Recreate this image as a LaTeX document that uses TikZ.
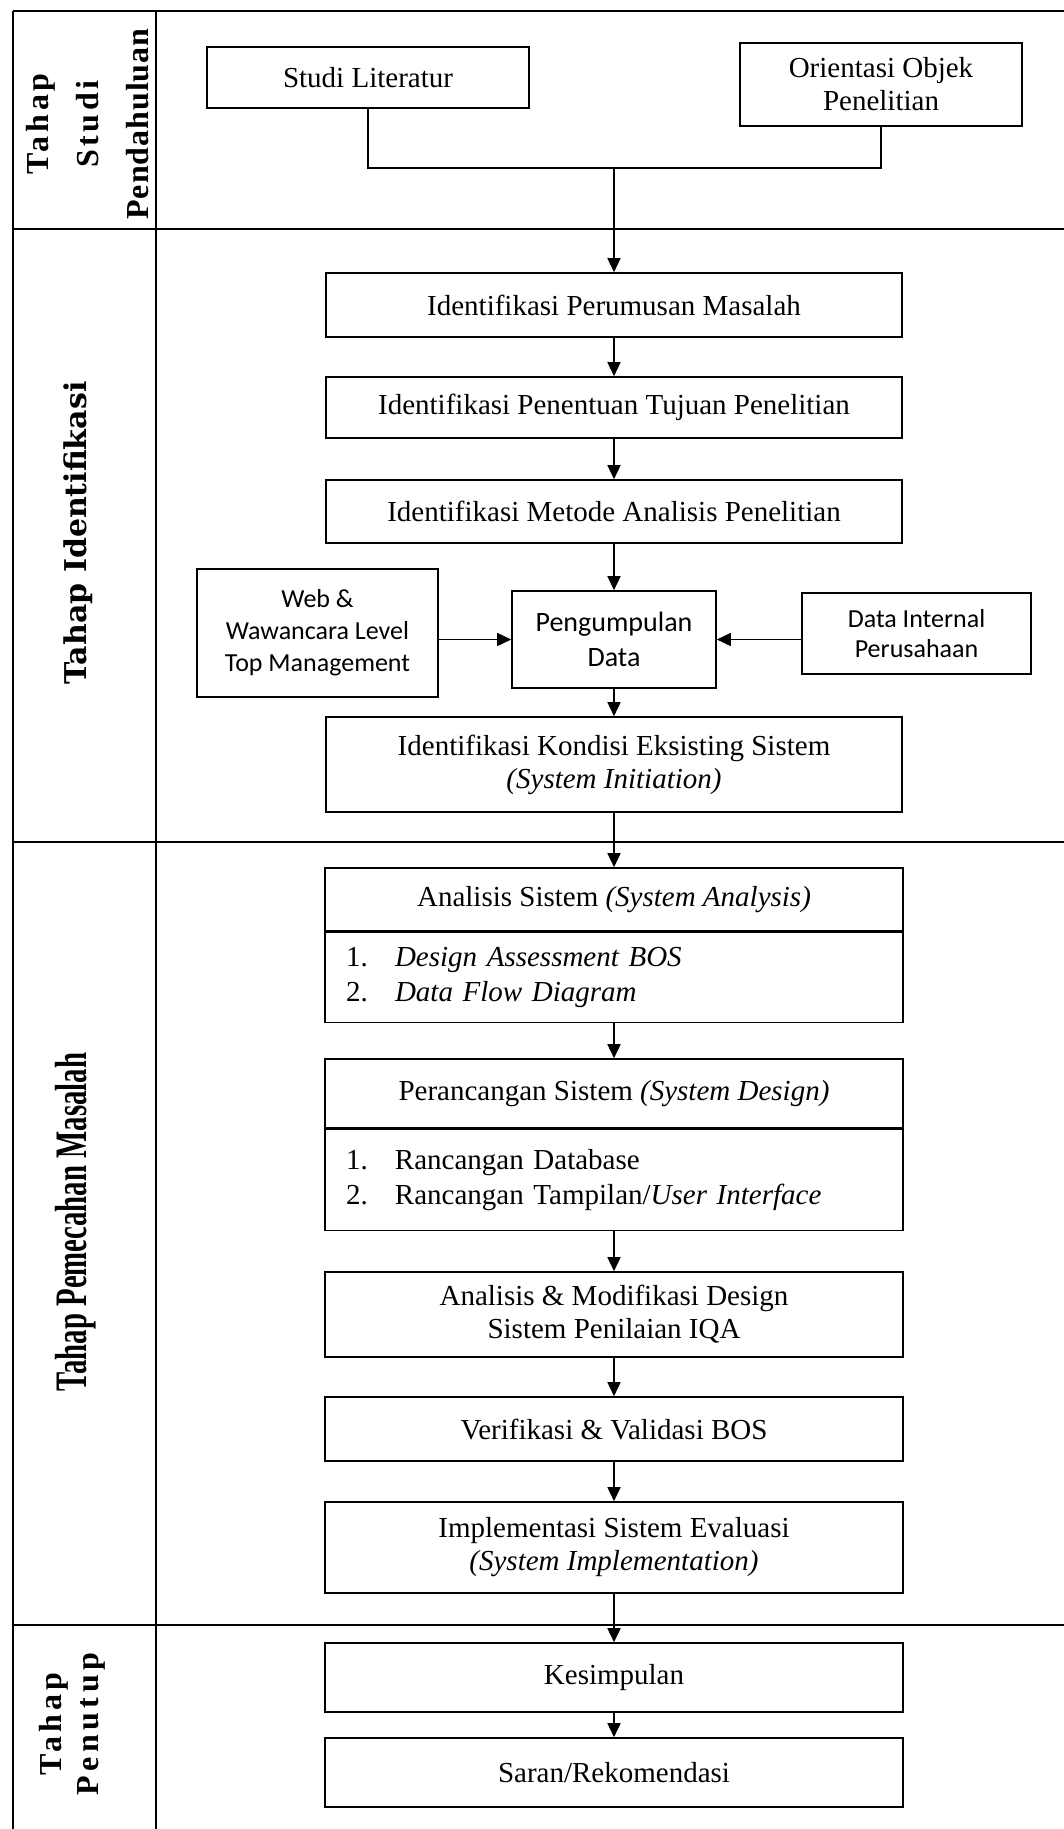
\documentclass[tikz,border=0pt]{standalone}
\usepackage{fontspec}
\setmainfont{Liberation Serif}
\newfontfamily\sansbox{Carlito}
\newfontfamily\lanefont{DejaVu Serif}
\newfontfamily\lanetimes{Liberation Serif}
\newfontfamily\lanecond{Liberation Serif}[FakeStretch=0.64]
\usetikzlibrary{arrows.meta}

\begin{document}
\begin{tikzpicture}[x=0.5pt,y=-0.5pt,
  line width=0.8pt,
  box/.style={draw, line width=0.8pt, align=center, inner sep=0pt,
    font=\fontsize{14.5}{16.5}\selectfont},
  listbox/.style={draw, line width=0.8pt, align=left, inner ysep=0pt,
    inner xsep=10.5pt, text width=268pt, font=\fontsize{14.5}{17.5}\selectfont},
  sbox/.style={draw, line width=0.8pt, align=center, inner sep=0pt,
    font=\sansbox\fontsize{13}{16}\selectfont},
  wh/.style 2 args={minimum width=#1*0.5pt, minimum height=#2*0.5pt},
  flow/.style={-{Triangle[length=7pt,width=6.5pt]}},
  lane/.style={line width=0.8pt},
  lanelabel/.style={rotate=90, align=center, inner sep=0pt},
]
\useasboundingbox (0,0) rectangle (1064,1829);

% swimlane frame
\draw[lane] (13,11) -- (1064,11);
\draw[lane] (13,229) -- (1064,229);
\draw[lane] (13,842) -- (1064,842);
\draw[lane] (13,1625) -- (1064,1625);
\draw[lane] (13,11) -- (13,1829);
\draw[lane] (156,11) -- (156,1829);

% lane titles
\node[lanelabel, font=\lanetimes\bfseries\fontsize{16}{25}\selectfont] (lane1) at (88,124)
  {{\addfontfeature{LetterSpace=12}Tahap}\\
   {\addfontfeature{LetterSpace=11}Studi}\\
   {\addfontfeature{LetterSpace=3}Pendahuluan}};
\node[lanelabel, font=\lanefont\bfseries\fontsize{15}{18}\selectfont] (lane2) at (78,533) {Tahap Identifikasi};
\node[lanelabel, font=\lanecond\bfseries\fontsize{22.5}{26}\selectfont] (lane3) at (76,1222) {Tahap Pemecahan Masalah};
\node[lanelabel, font=\lanetimes\bfseries\fontsize{16}{18.5}\selectfont] (lane4) at (72,1724)
  {{\addfontfeature{LetterSpace=13}Tahap}\\
   {\addfontfeature{LetterSpace=14}Penutup}};

% preliminary study
\node[box, wh={322}{61}] (studi) at (368,77.5) {Studi Literatur};
\node[box, wh={282}{83}] (orient) at (881,84.5) {Orientasi Objek\\Penelitian};
\coordinate (join) at (614,168);

% identification
\node[box, wh={576}{64}] (perum) at (614,305) {Identifikasi Perumusan Masalah};
\node[box, wh={576}{61}] (tujuan) at (614,407.5) {Identifikasi Penentuan Tujuan Penelitian};
\node[box, wh={576}{63}] (metode) at (614,511.5) {Identifikasi Metode Analisis Penelitian};
\node[sbox, wh={241}{128}] (web) at (317.5,633) {Web \&\\Wawancara Level\\Top Management};
\node[sbox, wh={204}{97}, font=\sansbox\fontsize{14}{17.5}\selectfont] (data) at (614,639.5) {Pengumpulan\\Data};
\node[sbox, wh={229}{81}, font=\sansbox\fontsize{13}{15}\selectfont] (internal) at (916.5,633.5) {Data Internal\\Perusahaan};
\node[box, wh={576}{95}] (kondisi) at (614,764.5) {Identifikasi Kondisi Eksisting Sistem\\\textit{(System Initiation)}};

% problem solving
\node[box, wh={578}{63}] (anah) at (614,899.5) {Analisis Sistem \textit{(System Analysis)}};
\node[listbox, wh={578}{90}, anchor=north] (anal) at (anah.south)
  {\makebox[24.5pt][l]{1.}\textit{Design Assessment BOS}\\
   \makebox[24.5pt][l]{2.}\textit{Data Flow Diagram}};
\node[box, wh={578}{69}] (pch) at (614,1093.5) {Perancangan Sistem \textit{(System Design)}};
\node[listbox, wh={578}{101}, anchor=north] (pcl) at (pch.south)
  {\makebox[24.5pt][l]{1.}Rancangan Database\\
   \makebox[24.5pt][l]{2.}Rancangan Tampilan/\textit{User Interface}};
\node[box, wh={578}{85}] (modif) at (614,1314.5) {Analisis \& Modifikasi Design\\Sistem Penilaian IQA};
\node[box, wh={578}{64}] (verif) at (614,1429) {Verifikasi \& Validasi BOS};
\node[box, wh={578}{91}] (implem) at (614,1547.5) {Implementasi Sistem Evaluasi\\\textit{(System Implementation)}};

% closing
\node[box, wh={578}{69}] (kesim) at (614,1677.5) {Kesimpulan};
\node[box, wh={578}{69}] (saran) at (614,1772.5) {Saran/Rekomendasi};

% connectors
\draw (studi.south) |- (join) -| (orient.south);
\draw[flow] (join) -- (perum.north);
\draw[flow] (perum.south) -- (tujuan.north);
\draw[flow] (tujuan.south) -- (metode.north);
\draw[flow] (metode.south) -- (data.north);
\draw[flow] (web.east |- data.west) -- (data.west);
\draw[flow] (internal.west |- data.east) -- (data.east);
\draw[flow] (data.south) -- (kondisi.north);
\draw[flow] (kondisi.south) -- (anah.north);
\draw[flow] (anal.south) -- (pch.north);
\draw[flow] (pcl.south) -- (modif.north);
\draw[flow] (modif.south) -- (verif.north);
\draw[flow] (verif.south) -- (implem.north);
\draw[flow] (implem.south) -- (kesim.north);
\draw[flow] (kesim.south) -- (saran.north);
\end{tikzpicture}
\end{document}
